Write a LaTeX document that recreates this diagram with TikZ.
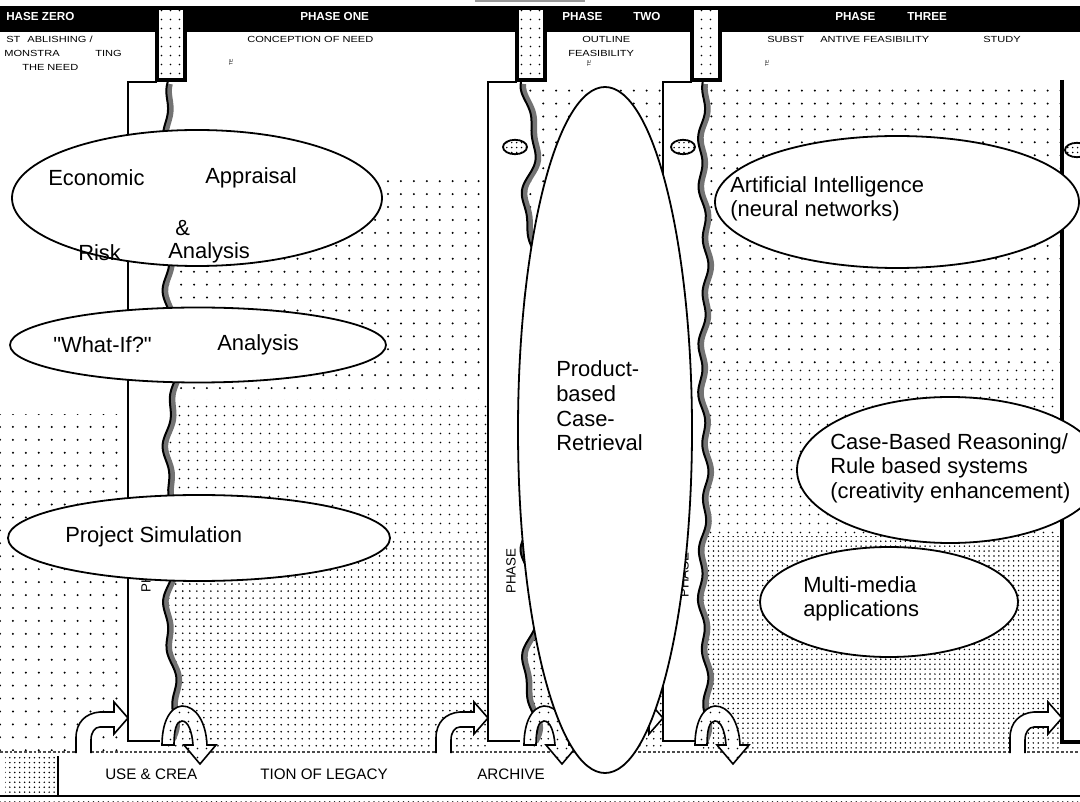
\documentclass[tikz,border=0pt]{standalone}
\usepackage{fontspec}
\setmainfont{Liberation Sans}
\newfontfamily\widefont[FakeStretch=1.25]{Liberation Sans}
\usetikzlibrary{shapes.geometric,patterns.meta}

\tikzset{
  sparsedots/.style={pattern={Dots[distance=9.2pt,radius=0.8pt]},pattern color=black},
  mediumdots/.style={pattern={Dots[distance=6.4pt,radius=0.7pt]},pattern color=black},
  densedots/.style={pattern={Dots[distance=5pt,radius=0.65pt]},pattern color=black},
  greydots/.style={pattern={Dots[distance=3.5pt,radius=0.6pt]},pattern color=black},
  bubble/.style={ellipse,draw,line width=0.45mm,fill=white,inner sep=0pt},
  marker/.style={ellipse,draw,line width=0.45mm,inner sep=0pt,minimum width=6mm,minimum height=3.6mm,preaction={fill=white},greydots},
  mainlabel/.style={font=\fontsize{15.6}{17.5}\selectfont,inner sep=0pt,anchor=west,align=left},
  barlabel/.style={font=\bfseries\fontsize{8.3}{10}\selectfont,text=white,inner sep=0pt,anchor=base west},
  toplabel/.style={font=\widefont\fontsize{6.3}{7}\selectfont,inner sep=0pt,anchor=base west},
  bandlabel/.style={font=\fontsize{10.8}{12}\selectfont,inner sep=0pt,anchor=west},
  phaselabel/.style={font=\fontsize{9.5}{11}\selectfont,rotate=90,inner sep=0pt,anchor=west},
  tinylabel/.style={font=\fontsize{3.5}{4}\selectfont,rotate=90,inner sep=0pt},
  wave/.style={line width=0.5mm,line join=round},
  waveshadow/.style={line width=1.4mm,black!55,xshift=0.7mm},
  edge/.style={line width=0.4mm},
  blockarrow/.style={line width=0.4mm},
}

\begin{document}
\begin{tikzpicture}[x=0.25mm,y=-0.25mm]
  \useasboundingbox (0,0) rectangle (1080,802);
  \clip (0,0) rectangle (1080,802);
  \fill[white] (0,0) rectangle (1080,802);

  %dotted phase fields
  \fill[sparsedots] (0,415) rectangle (128,750); %phase zero
  \fill[sparsedots] (165,172) rectangle (488,400); %phase one
  \fill[mediumdots] (165,400) rectangle (488,540);
  \fill[densedots] (165,540) rectangle (488,750);
  \fill[sparsedots] (520,86) rectangle (663,540); %phase two
  \fill[densedots] (520,540) rectangle (663,750);
  \fill[sparsedots] (700,86) rectangle (1060,370); %phase three
  \fill[mediumdots] (700,370) rectangle (1060,537);
  \fill[greydots] (700,537) rectangle (1060,750);

  %review strips with torn right edge
  \foreach \xl/\xm/\am/\fr in {128/170/5/2.2, 488/529/6/3.1, 663/703/3/1.7}{
    \fill[white] (\xl,82) -- plot[variable=\t,domain=82:750,samples=150,smooth] ({\xm+\am*sin(\fr*\t)+2.5*sin(7*\t+30)},\t) -- (\xl,750) -- cycle;
    \draw[waveshadow] plot[variable=\t,domain=84:742,samples=150,smooth] ({\xm+\am*sin(\fr*\t)+2.5*sin(7*\t+30)},\t);
    \draw[wave] plot[variable=\t,domain=82:742,samples=150,smooth] ({\xm+\am*sin(\fr*\t)+2.5*sin(7*\t+30)},\t);
    \draw[edge] (\xl+29,82) -- (\xl,82) -- (\xl,741) -- (\xl+32,741);
  }
  \draw[line width=1mm] (1062,80) -- (1062,742) -- (1080,742); %last strip

  %legacy band
  \draw[black!70,line width=0.5mm,dash pattern=on 0.7mm off 0.5mm] (0,752) -- (1080,752);
  \fill[white] (0,753.5) rectangle (1080,795);
  \fill[greydots] (5,756) rectangle (58,795);
  \draw[edge] (58,756) -- (58,795);
  \draw[line width=0.6mm] (0,796) -- (1080,796);
  \fill[greydots] (0,798) rectangle (1080,802);
  \node[bandlabel] (use) at (105,774) {USE \& CREA};
  \node[bandlabel] (legacy) at (260,774) {TION OF LEGACY};
  \node[bandlabel] (archive) at (477,774) {ARCHIVE};

  %arrows from the band into the strips
  \foreach \xl in {128,488,663,1062}{
    \fill[white,shift={(\xl,0)}] (-52,754) -- (-52,738) .. controls (-52,722) and (-42,713) .. (-28,712) -- (-14,712) -- (-14,702) -- (0,718) -- (-14,734) -- (-14,727) -- (-28,727) .. controls (-33,727) and (-37,732) .. (-37,740) -- (-37,754) -- cycle;
    \draw[blockarrow,shift={(\xl,0)}] (-52,753) -- (-52,738) .. controls (-52,722) and (-42,713) .. (-28,712) -- (-14,712) -- (-14,702) -- (0,718) -- (-14,734) -- (-14,727) -- (-28,727) .. controls (-33,727) and (-37,732) .. (-37,740) -- (-37,753);
  }
  %arrows from the strips down to the band
  \foreach \xl in {164,526,697}{
    \draw[blockarrow,preaction={fill=white},mediumdots,shift={(\xl,0)}] (-2,745) .. controls (-2,722) and (6,707) .. (18,706) .. controls (32,706) and (42,722) .. (43,745) -- (52,745) -- (36,764) -- (20,745) -- (29,745) .. controls (28,731) and (24,721) .. (18,721) .. controls (12,721) and (10,731) .. (10,745) -- cycle;
  }

  %phase bar
  \fill[black] (0,6) rectangle (1080,32);
  \draw[black!40,line width=0.3mm] (475,1) -- (585,1);
  \foreach \xl in {157,517,692}{
    \draw[line width=0.9mm,preaction={fill=white},mediumdots] (\xl,8) rectangle (\xl+28,80);
  }
  \node[barlabel] (pzero) at (6,20.5) {HASE ZERO};
  \node[barlabel] (pone) at (300,20.5) {PHASE ONE};
  \node[barlabel] (ptwo) at (562,20.5) {PHASE};
  \node[barlabel] (ptwob) at (633,20.5) {TWO};
  \node[barlabel] (pthree) at (835,20.5) {PHASE};
  \node[barlabel] (pthreeb) at (907,20.5) {THREE};

  %phase titles
  \node[toplabel] (estab) at (6,43) {ST\hspace{5pt}ABLISHING /};
  \node[toplabel] (demo) at (4,57) {MONSTRA};
  \node[toplabel] (demob) at (95,57) {TING};
  \node[toplabel] (need) at (22,71) {THE NEED};
  \node[toplabel] (concept) at (247,43) {CONCEPTION OF NEED};
  \node[toplabel] (outline) at (582,43) {OUTLINE};
  \node[toplabel] (feas) at (568,57) {FEASIBILITY};
  \node[toplabel] (subst) at (767,43) {SUBST};
  \node[toplabel] (antive) at (820,43) {ANTIVE FEASIBILITY};
  \node[toplabel] (study) at (983,43) {STUDY};
  \node[tinylabel] (te1) at (231,62) {TE};
  \node[tinylabel] (te2) at (589,63) {TE};
  \node[tinylabel] (te3) at (767,63) {TE};

  %strip markers and labels
  \node[marker] (mk2) at (515,147) {};
  \node[marker] (mk3) at (683,147) {};
  \node[marker] (mk4) at (1077,150) {};
  \node[phaselabel] (rv1) at (146,593) {PHASE};
  \node[phaselabel] (rv2) at (511,594) {PHASE};
  \node[phaselabel] (rv3) at (684,598) {PHASE};

  %tool ellipses
  \node[bubble,minimum width=92.5mm,minimum height=34mm] (econ) at (197,198) {};
  \node[bubble,minimum width=94mm,minimum height=18.75mm] (whatif) at (198,345) {};
  \node[bubble,minimum width=95.5mm,minimum height=21.5mm] (projsim) at (199,538) {};
  \node[bubble,minimum width=43.5mm,minimum height=171.5mm] (caseret) at (605,430) {};
  \node[bubble,minimum width=91mm,minimum height=33mm] (aint) at (897,202) {};
  \node[bubble,minimum width=76.5mm,minimum height=36.5mm] (cbr) at (950,470) {};
  \node[bubble,minimum width=64.5mm,minimum height=27.5mm] (mmedia) at (889,602) {};

  %ellipse texts
  \node[mainlabel] (econa) at (48,178) {Economic};
  \node[mainlabel] (econb) at (205,178) {Appraisal};
  \node[mainlabel] (econc) at (175,228) {\&};
  \node[mainlabel] (econd) at (78,253) {Risk};
  \node[mainlabel] (econe) at (168,253) {Analysis};
  \node[mainlabel] (whatifa) at (53,345) {\textquotedbl What-If?\textquotedbl};
  \node[mainlabel] (whatifb) at (217,345) {Analysis};
  \node[mainlabel] (projsima) at (65,537) {Project Simulation};
  \node[mainlabel] (caseret-t) at (556,406) {Product-\\based\\Case-\\Retrieval};
  \node[mainlabel] (aint-t) at (730,199) {Artificial Intelligence\\(neural networks)};
  \node[mainlabel] (cbr-t) at (830,468) {Case-Based Reasoning/\\Rule based systems\\(creativity enhancement)};
  \node[mainlabel] (mmedia-t) at (803,599) {Multi-media\\applications};
\end{tikzpicture}
\end{document}
